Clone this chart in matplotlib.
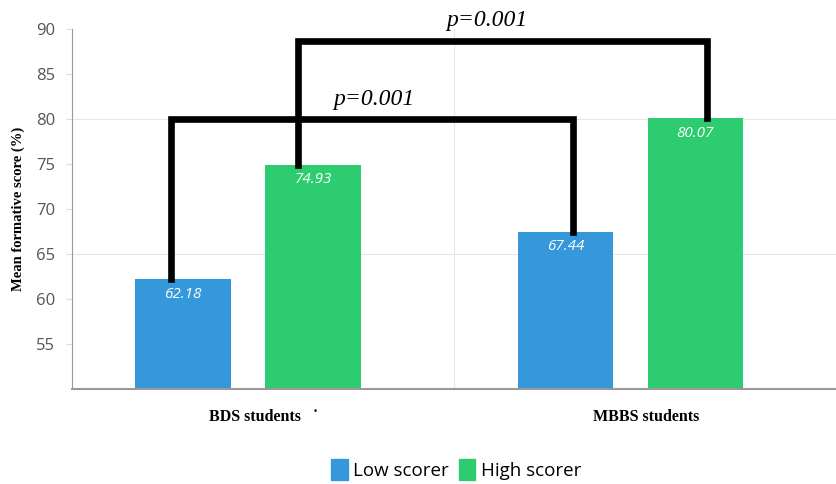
import numpy as np
import matplotlib as mpl
mpl.use('Agg')
from matplotlib import pyplot as plt
from matplotlib.patches import Patch

categories = ['BDS students   \u02d9', 'MBBS students']
low_scorer = [62.18, 67.44]
high_scorer = [74.93, 80.07]
series_names = ['Low scorer', 'High scorer']
y_ticks = [55, 60, 65, 70, 75, 80, 85, 90]
p_values = ['p=0.001', 'p=0.001']

BLUE = '#3498db'
GREEN = '#2ecc71'
SERIF = ['Liberation Serif', 'DejaVu Serif']

fig = plt.figure(figsize=(8.37, 4.84), dpi=100)
ax = fig.add_axes([0.086, 0.196, 0.914, 0.744])

x = np.arange(len(categories))
w = 0.25
x_low = x - 0.21
x_high = x + 0.13

ax.bar(x_low, low_scorer, w, color=BLUE, zorder=2)
ax.bar(x_high, high_scorer, w, color=GREEN, zorder=2)

for xs, vals in [(x_low, low_scorer), (x_high, high_scorer)]:
    for xi, v in zip(xs, vals):
        ax.text(xi, v - 0.8, '%.2f' % v, ha='center', va='top', color='white',
                fontsize=11, style='italic', family='Open Sans', zorder=4)

# significance brackets
lw = 4.8
ax.plot([x_low[0] - 0.03, x_low[0] - 0.03, x_low[1] + 0.02, x_low[1] + 0.02],
        [low_scorer[0], 80, 80, low_scorer[1]], color='black', lw=lw,
        solid_joinstyle='miter', zorder=3, clip_on=False)
ax.plot([x_high[0] - 0.04, x_high[0] - 0.04, x_high[1] + 0.03, x_high[1] + 0.03],
        [high_scorer[0], 88.7, 88.7, high_scorer[1]], color='black', lw=lw,
        solid_joinstyle='miter', zorder=3, clip_on=False)
ax.text(0.29, 81.0, p_values[0], ha='center', va='bottom', fontsize=17,
        style='italic', family=SERIF, zorder=4)
ax.text(0.586, 89.8, p_values[1], ha='center', va='bottom', fontsize=17,
        style='italic', family=SERIF, zorder=4, clip_on=False)

ax.set_xlim(-0.5, 1.5)
ax.set_ylim(50, 90)
ax.set_yticks(y_ticks)
ax.set_yticklabels([str(t) for t in y_ticks], color='#555555', fontsize=12,
                   family='Open Sans')
ax.tick_params(axis='y', length=4, color='#dddddd', pad=8)
ax.set_xticks(x)
ax.set_xticklabels(categories, family=SERIF, fontweight='bold',
                   fontsize=11.5)
ax.tick_params(axis='x', length=0, pad=14)

for g in [65, 80]:
    ax.axhline(g, color='#e6e6e6', lw=0.8, zorder=0)
ax.axvline(0.5, color='#e6e6e6', lw=0.8, zorder=0)

for s in ['top', 'right']:
    ax.spines[s].set_visible(False)
ax.spines['left'].set_color('#999999')
ax.spines['bottom'].set_color('#999999')
ax.spines['bottom'].set_linewidth(1.5)

ax.set_ylabel('Mean formative score (%)', family=SERIF,
              fontweight='bold', fontsize=10.5, labelpad=8)

handles = [Patch(color=BLUE), Patch(color=GREEN)]
fig.legend(handles, series_names, loc='center', bbox_to_anchor=(0.545, 0.03),
           ncol=2, frameon=False, handlelength=0.9, handleheight=1.3,
           handletextpad=0.3, columnspacing=0.5,
           prop={'family': 'Open Sans', 'size': 13.5})

fig.savefig('out.png', dpi=100)
